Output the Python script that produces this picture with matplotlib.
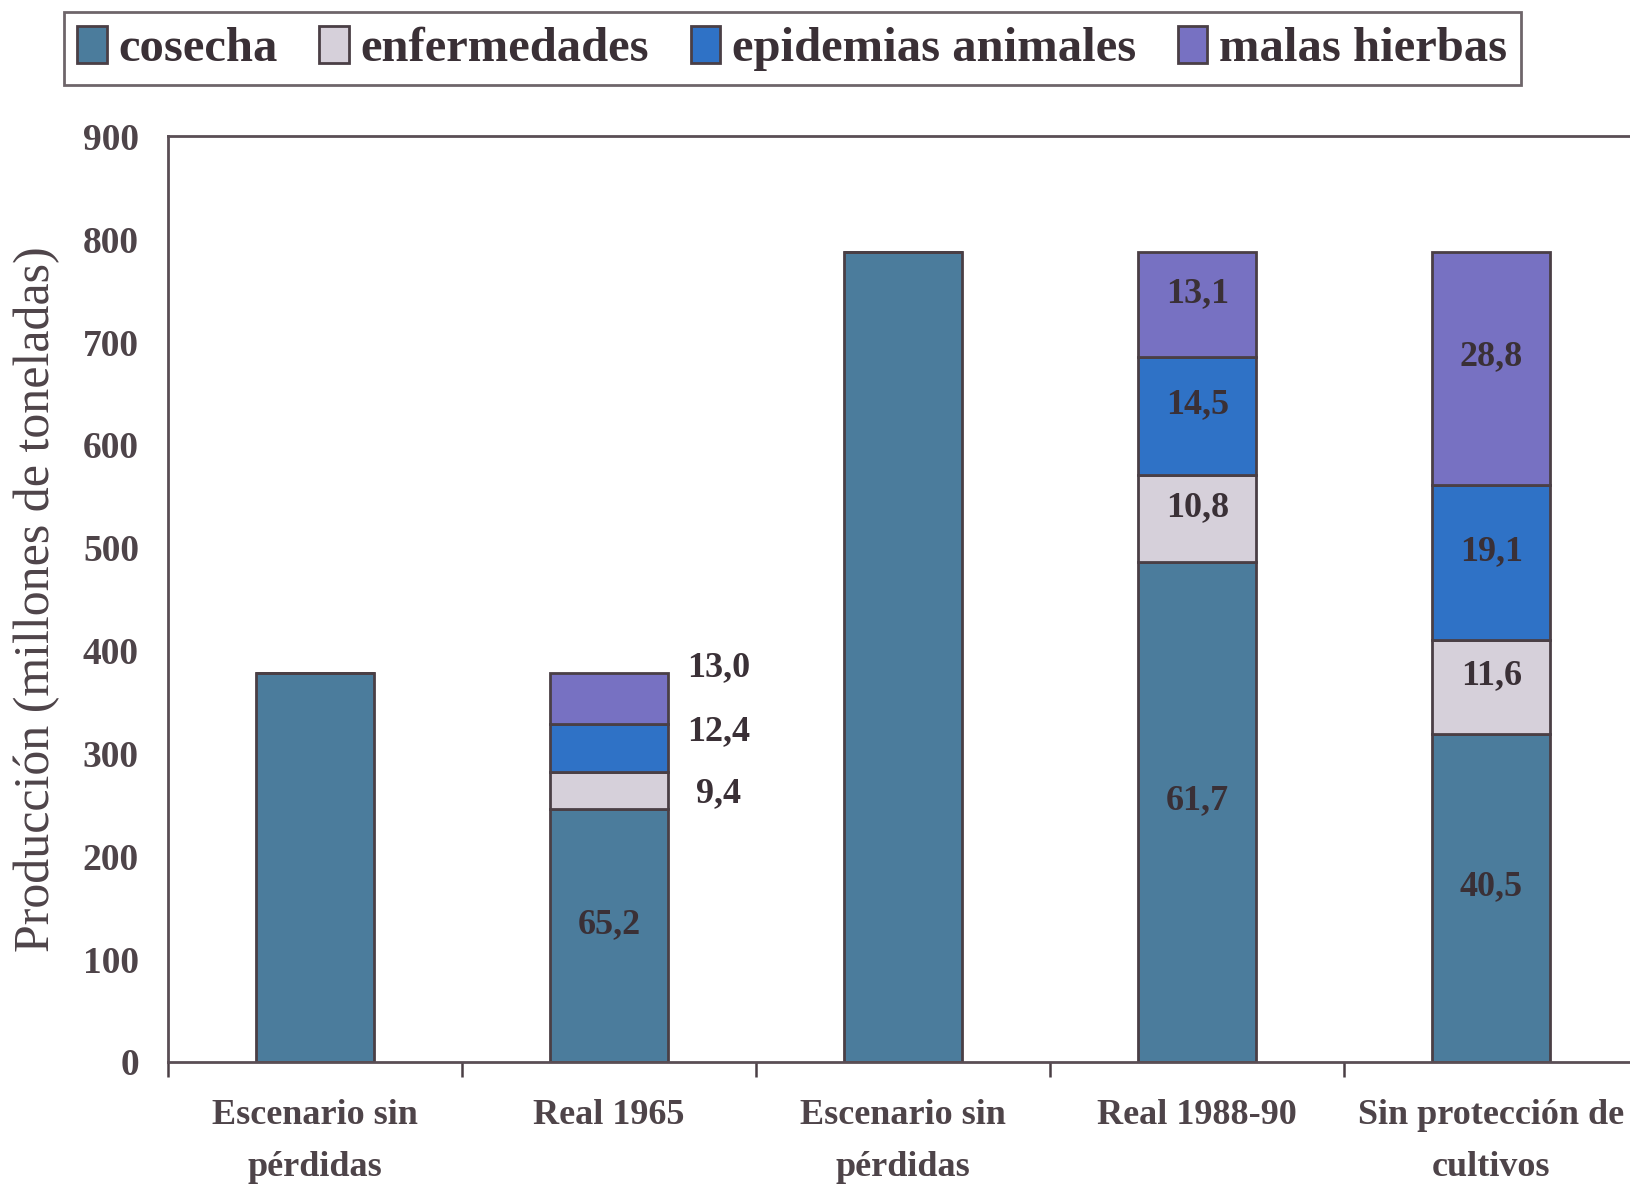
import numpy as np
import matplotlib
matplotlib.use("Agg")
import matplotlib.pyplot as plt

# DATA (millones de toneladas)
categorias = ["Escenario sin\npérdidas", "Real 1965", "Escenario sin\npérdidas",
              "Real 1988-90", "Sin protección de\ncultivos"]
series = ["cosecha", "enfermedades", "epidemias animales", "malas hierbas"]

cosecha = [378, 246, 788, 486, 319]
enfermedades = [0, 36, 0, 85, 91]
epidemias = [0, 47, 0, 114, 151]
malas = [0, 49, 0, 103, 227]

# percentage labels per bar (None = no label)
etiquetas = [
    [None, None, None, None],
    ["65,2", "9,4", "12,4", "13,0"],
    [None, None, None, None],
    ["61,7", "10,8", "14,5", "13,1"],
    ["40,5", "11,6", "19,1", "28,8"],
]

colores = ["#4b7c9c", "#d6d0da", "#2f72c6", "#7771c2"]
texto = "#3a3036"

plt.rcParams['font.family'] = ['Liberation Serif', 'DejaVu Serif']

fig = plt.figure(figsize=(16.3, 11.86), dpi=100)
ax = fig.add_axes([0.1031, 0.1046, 0.902, 0.7804])

x = np.arange(len(categorias)) + 0.5
ancho = 0.4
datos = [cosecha, enfermedades, epidemias, malas]
base = np.zeros(len(categorias))
barras = []
for serie, vals, col in zip(series, datos, colores):
    vals = np.array(vals, dtype=float)
    ax.bar(x, vals, ancho, bottom=base, color=col, edgecolor="#4a3f45",
           linewidth=2, label=serie)
    barras.append((vals.copy(), base.copy()))
    base = base + vals

# value labels
for i in range(len(categorias)):
    for k, (vals, bot) in enumerate(barras):
        lab = etiquetas[i][k]
        if lab is None:
            continue
        yc = bot[i] + vals[i] / 2
        if i == 1 and k > 0:
            # Real 1965: small segments, labels outside to the right
            xs = x[i] + 0.372
            yc = {1: 261, 2: 321, 3: 383}[k]
        else:
            xs = x[i]
            yc = yc + 11
        ax.text(xs, yc, lab, ha="center", va="center", fontsize=26,
                fontweight="bold", color=texto)

ax.set_xlim(0, 5)
ax.set_ylim(0, 900)
ax.set_yticks(np.arange(0, 901, 100))
ax.tick_params(axis="y", length=0, pad=21, labelsize=27, labelcolor="#4e4449")
for t in ax.get_yticklabels():
    t.set_fontweight("bold")

ax.set_xticks(np.arange(0, 6))
ax.set_xticklabels([])
ax.tick_params(axis="x", which="major", direction="out", length=11, width=1.8,
               color="#4a3f45")
ax.set_xticks(x, minor=True)
ax.set_xticklabels(categorias, minor=True, fontsize=26, fontweight="bold",
                   color="#4e4449", linespacing=1.75)
ax.tick_params(axis="x", which="minor", length=0, pad=27)

for s in ["left", "bottom", "top", "right"]:
    ax.spines[s].set_color("#5a4e55")
    ax.spines[s].set_linewidth(2)

ax.set_ylabel("Producción (millones de toneladas)", fontsize=36,
              color="#4e4449", labelpad=16)

leg = fig.legend(loc="center", bbox_to_anchor=(0.486, 0.9593), ncol=4,
                 frameon=True, fancybox=False,
                 handlelength=0.6, handleheight=0.8, handletextpad=0.25,
                 columnspacing=0.85, borderpad=0.28, borderaxespad=0,
                 prop={"weight": "bold", "size": 35})
leg.get_frame().set_edgecolor("#4a3f45")
leg.get_frame().set_linewidth(2)
for t in leg.get_texts():
    t.set_color(texto)

fig.savefig("out.png", dpi=100)
